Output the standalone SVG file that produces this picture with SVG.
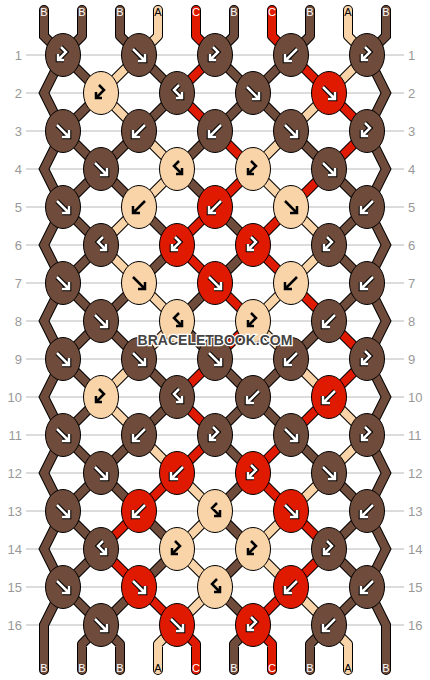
<svg xmlns="http://www.w3.org/2000/svg" xmlns:xlink="http://www.w3.org/1999/xlink" width="430" height="680" viewBox="0 0 430 680">
<style>
.grid{fill:none;stroke:#b8b8b8;stroke-width:1}
.rl{font-family:"Liberation Sans",Arial,sans-serif;font-size:13px;fill:#999}
.so{fill:none;stroke:#000;stroke-width:10;stroke-linecap:round;stroke-linejoin:round}
.se{fill:none;stroke:#000;stroke-width:10;stroke-linecap:round;stroke-linejoin:miter}
.sb{fill:none;stroke:#6E4B3A;stroke-width:8;stroke-linecap:round;stroke-linejoin:round}
.sbe{fill:none;stroke:#6E4B3A;stroke-width:8;stroke-linecap:round;stroke-linejoin:miter}
.sa{fill:none;stroke:#F8D4A8;stroke-width:8;stroke-linecap:round;stroke-linejoin:round}
.sc{fill:none;stroke:#E01A00;stroke-width:8;stroke-linecap:round;stroke-linejoin:round}
.kb{fill:#6E4B3A;stroke:#000;stroke-width:1}
.ka{fill:#F8D4A8;stroke:#000;stroke-width:1}
.kc{fill:#E01A00;stroke:#000;stroke-width:1}
.ao{fill:none;stroke:#000;stroke-width:4.6}
.ai{fill:none;stroke:#fff;stroke-width:2.5}
.ak{fill:none;stroke:#000;stroke-width:2.5}
.lt{font-family:"Liberation Sans",Arial,sans-serif;font-size:11px;text-anchor:middle}
.lw{fill:#fff}
.lk{fill:#000}
.wm{font-family:"Liberation Sans",Arial,sans-serif;font-size:14px;font-weight:bold;fill:#444;stroke:#fff;stroke-width:2.5;paint-order:stroke;text-anchor:middle}
</style>
<defs>
<ellipse id="e" rx="17.5" ry="21.5"/>
<path id="aF" d="M-6,-6L5,5M6,-1L6,6L-1,6"/>
<path id="aK" d="M6,-6L-5,5M-6,-1L-6,6L1,6"/>
<path id="aBF" d="M-2,-8L3,-3L-4,4M-5,-1L-5,5L1,5"/>
<path id="aFB" d="M2,-8L-3,-3L4,4M5,-1L5,5L-1,5"/>
<path id="pB" d="M63,55L101,93M139,55L177,93M215,55L253,93M291,55L253,93M101,93L63,131M177,93L139,131M253,93L215,131M253,93L291,131M63,131L101,169M139,131L101,169M215,131L177,169M291,131L329,169M101,169L63,207M101,169L139,207M177,169L215,207M329,169L367,207M63,207L101,245M139,207L177,245M215,207L253,245M367,207L329,245M101,245L63,283M177,245L139,283M253,245L215,283M329,245L367,283M63,283L101,321M139,283L101,321M215,283L177,321M367,283L329,321M101,321L63,359M101,321L139,359M177,321L215,359M329,321L291,359M63,359L101,397M139,359L177,397M215,359L253,397M291,359L253,397M101,397L63,435M177,397L139,435M253,397L215,435M253,397L291,435M63,435L101,473M139,435L101,473M215,435L253,473M291,435L329,473M101,473L63,511M101,473L139,511M253,473L215,511M329,473L367,511M63,511L101,549M139,511L177,549M215,511L253,549M367,511L329,549M101,549L63,587M177,549L139,587M253,549L215,587M329,549L367,587M63,587L101,625M139,587L101,625M215,587L253,625M367,587L329,625M82,10V36L63,55M120,10V36L139,55M234,10V36L215,55M310,10V36L291,55M101,625L82,644V670M101,625L120,644V670M253,625L234,644V670M329,625L310,644V670"/>
<path id="pE" d="M44,10V36L63,55L44,93L63,131L44,169L63,207L44,245L63,283L44,321L63,359L44,397L63,435L44,473L63,511L44,549L63,587L44,625V670M386,10V36L367,55L386,93L367,131L386,169L367,207L386,245L367,283L386,321L367,359L386,397L367,435L386,473L367,511L386,549L367,587L386,625V670"/>
<path id="pA" d="M139,55L101,93M367,55L329,93M101,93L139,131M329,93L291,131M139,131L177,169M291,131L253,169M177,169L139,207M253,169L291,207M139,207L101,245M291,207L329,245M101,245L139,283M329,245L291,283M139,283L177,321M291,283L253,321M177,321L139,359M253,321L291,359M139,359L101,397M291,359L329,397M101,397L139,435M329,397L367,435M139,435L177,473M367,435L329,473M177,473L215,511M329,473L291,511M215,511L177,549M291,511L253,549M177,549L215,587M253,549L291,587M215,587L177,625M291,587L329,625M158,10V36L139,55M348,10V36L367,55M177,625L158,644V670M329,625L348,644V670"/>
<path id="pC" d="M215,55L177,93M291,55L329,93M177,93L215,131M329,93L367,131M215,131L253,169M367,131L329,169M253,169L215,207M329,169L291,207M215,207L177,245M291,207L253,245M177,245L215,283M253,245L291,283M215,283L253,321M291,283L329,321M253,321L215,359M329,321L367,359M215,359L177,397M367,359L329,397M177,397L215,435M329,397L291,435M215,435L177,473M291,435L253,473M177,473L139,511M253,473L291,511M139,511L101,549M291,511L329,549M101,549L139,587M329,549L291,587M139,587L177,625M291,587L253,625M196,10V36L215,55M272,10V36L291,55M177,625L196,644V670M253,625L272,644V670"/>
</defs>
<rect width="430" height="680" fill="#fff"/>
<g id="grid">
<path class="grid" d="M26,55H404M26,93H404M26,131H404M26,169H404M26,207H404M26,245H404M26,283H404M26,321H404M26,359H404M26,397H404M26,435H404M26,473H404M26,511H404M26,549H404M26,587H404M26,625H404"/>
</g>
<g id="row-labels" class="rl">
<g text-anchor="end">
<text x="22" y="59.5">1</text><text x="22" y="97.5">2</text><text x="22" y="135.5">3</text><text x="22" y="173.5">4</text><text x="22" y="211.5">5</text><text x="22" y="249.5">6</text><text x="22" y="287.5">7</text><text x="22" y="325.5">8</text><text x="22" y="363.5">9</text><text x="22" y="401.5">10</text><text x="22" y="439.5">11</text><text x="22" y="477.5">12</text><text x="22" y="515.5">13</text><text x="22" y="553.5">14</text><text x="22" y="591.5">15</text><text x="22" y="629.5">16</text>
</g>
<g text-anchor="start">
<text x="408" y="59.5">1</text><text x="408" y="97.5">2</text><text x="408" y="135.5">3</text><text x="408" y="173.5">4</text><text x="408" y="211.5">5</text><text x="408" y="249.5">6</text><text x="408" y="287.5">7</text><text x="408" y="325.5">8</text><text x="408" y="363.5">9</text><text x="408" y="401.5">10</text><text x="408" y="439.5">11</text><text x="408" y="477.5">12</text><text x="408" y="515.5">13</text><text x="408" y="553.5">14</text><text x="408" y="591.5">15</text><text x="408" y="629.5">16</text>
</g>
</g>
<g id="connectors">
<use href="#pE" class="se"/>
<use href="#pB" class="so"/>
<use href="#pA" class="so"/>
<use href="#pC" class="so"/>
<use href="#pE" class="sbe"/>
<use href="#pB" class="sb"/>
<use href="#pA" class="sa"/>
<use href="#pC" class="sc"/>
</g>
<g id="string-labels" class="lt">
<text class="lw" x="44" y="16">B</text><text class="lw" x="82" y="16">B</text><text class="lw" x="120" y="16">B</text><text class="lk" x="158" y="16">A</text><text class="lw" x="196" y="16">C</text><text class="lw" x="234" y="16">B</text><text class="lw" x="272" y="16">C</text><text class="lw" x="310" y="16">B</text><text class="lk" x="348" y="16">A</text><text class="lw" x="386" y="16">B</text>
<text class="lw" x="44" y="672">B</text><text class="lw" x="82" y="672">B</text><text class="lw" x="120" y="672">B</text><text class="lk" x="158" y="672">A</text><text class="lw" x="196" y="672">C</text><text class="lw" x="234" y="672">B</text><text class="lw" x="272" y="672">C</text><text class="lw" x="310" y="672">B</text><text class="lk" x="348" y="672">A</text><text class="lw" x="386" y="672">B</text>
</g>
<g id="knots">
<g id="k1-1" transform="translate(63,55)"><use href="#e" class="kb"/><use href="#aBF" class="ao"/><use href="#aBF" class="ai"/></g>
<g id="k1-2" transform="translate(139,55)"><use href="#e" class="kb"/><use href="#aF" class="ao"/><use href="#aF" class="ai"/></g>
<g id="k1-3" transform="translate(215,55)"><use href="#e" class="kb"/><use href="#aBF" class="ao"/><use href="#aBF" class="ai"/></g>
<g id="k1-4" transform="translate(291,55)"><use href="#e" class="kb"/><use href="#aK" class="ao"/><use href="#aK" class="ai"/></g>
<g id="k1-5" transform="translate(367,55)"><use href="#e" class="kb"/><use href="#aBF" class="ao"/><use href="#aBF" class="ai"/></g>
<g id="k2-1" transform="translate(101,93)"><use href="#e" class="ka"/><use href="#aBF" class="ak"/></g>
<g id="k2-2" transform="translate(177,93)"><use href="#e" class="kb"/><use href="#aFB" class="ao"/><use href="#aFB" class="ai"/></g>
<g id="k2-3" transform="translate(253,93)"><use href="#e" class="kb"/><use href="#aF" class="ao"/><use href="#aF" class="ai"/></g>
<g id="k2-4" transform="translate(329,93)"><use href="#e" class="kc"/><use href="#aF" class="ao"/><use href="#aF" class="ai"/></g>
<g id="k3-1" transform="translate(63,131)"><use href="#e" class="kb"/><use href="#aF" class="ao"/><use href="#aF" class="ai"/></g>
<g id="k3-2" transform="translate(139,131)"><use href="#e" class="kb"/><use href="#aK" class="ao"/><use href="#aK" class="ai"/></g>
<g id="k3-3" transform="translate(215,131)"><use href="#e" class="kb"/><use href="#aK" class="ao"/><use href="#aK" class="ai"/></g>
<g id="k3-4" transform="translate(291,131)"><use href="#e" class="kb"/><use href="#aF" class="ao"/><use href="#aF" class="ai"/></g>
<g id="k3-5" transform="translate(367,131)"><use href="#e" class="kb"/><use href="#aBF" class="ao"/><use href="#aBF" class="ai"/></g>
<g id="k4-1" transform="translate(101,169)"><use href="#e" class="kb"/><use href="#aF" class="ao"/><use href="#aF" class="ai"/></g>
<g id="k4-2" transform="translate(177,169)"><use href="#e" class="ka"/><use href="#aFB" class="ak"/></g>
<g id="k4-3" transform="translate(253,169)"><use href="#e" class="ka"/><use href="#aBF" class="ak"/></g>
<g id="k4-4" transform="translate(329,169)"><use href="#e" class="kb"/><use href="#aF" class="ao"/><use href="#aF" class="ai"/></g>
<g id="k5-1" transform="translate(63,207)"><use href="#e" class="kb"/><use href="#aF" class="ao"/><use href="#aF" class="ai"/></g>
<g id="k5-2" transform="translate(139,207)"><use href="#e" class="ka"/><use href="#aK" class="ak"/></g>
<g id="k5-3" transform="translate(215,207)"><use href="#e" class="kc"/><use href="#aK" class="ao"/><use href="#aK" class="ai"/></g>
<g id="k5-4" transform="translate(291,207)"><use href="#e" class="ka"/><use href="#aF" class="ak"/></g>
<g id="k5-5" transform="translate(367,207)"><use href="#e" class="kb"/><use href="#aK" class="ao"/><use href="#aK" class="ai"/></g>
<g id="k6-1" transform="translate(101,245)"><use href="#e" class="kb"/><use href="#aFB" class="ao"/><use href="#aFB" class="ai"/></g>
<g id="k6-2" transform="translate(177,245)"><use href="#e" class="kc"/><use href="#aBF" class="ao"/><use href="#aBF" class="ai"/></g>
<g id="k6-3" transform="translate(253,245)"><use href="#e" class="kc"/><use href="#aBF" class="ao"/><use href="#aBF" class="ai"/></g>
<g id="k6-4" transform="translate(329,245)"><use href="#e" class="kb"/><use href="#aBF" class="ao"/><use href="#aBF" class="ai"/></g>
<g id="k7-1" transform="translate(63,283)"><use href="#e" class="kb"/><use href="#aF" class="ao"/><use href="#aF" class="ai"/></g>
<g id="k7-2" transform="translate(139,283)"><use href="#e" class="ka"/><use href="#aF" class="ak"/></g>
<g id="k7-3" transform="translate(215,283)"><use href="#e" class="kc"/><use href="#aF" class="ao"/><use href="#aF" class="ai"/></g>
<g id="k7-4" transform="translate(291,283)"><use href="#e" class="ka"/><use href="#aK" class="ak"/></g>
<g id="k7-5" transform="translate(367,283)"><use href="#e" class="kb"/><use href="#aK" class="ao"/><use href="#aK" class="ai"/></g>
<g id="k8-1" transform="translate(101,321)"><use href="#e" class="kb"/><use href="#aF" class="ao"/><use href="#aF" class="ai"/></g>
<g id="k8-2" transform="translate(177,321)"><use href="#e" class="ka"/><use href="#aFB" class="ak"/></g>
<g id="k8-3" transform="translate(253,321)"><use href="#e" class="ka"/><use href="#aBF" class="ak"/></g>
<g id="k8-4" transform="translate(329,321)"><use href="#e" class="kb"/><use href="#aK" class="ao"/><use href="#aK" class="ai"/></g>
<g id="k9-1" transform="translate(63,359)"><use href="#e" class="kb"/><use href="#aF" class="ao"/><use href="#aF" class="ai"/></g>
<g id="k9-2" transform="translate(139,359)"><use href="#e" class="kb"/><use href="#aF" class="ao"/><use href="#aF" class="ai"/></g>
<g id="k9-3" transform="translate(215,359)"><use href="#e" class="kb"/><use href="#aF" class="ao"/><use href="#aF" class="ai"/></g>
<g id="k9-4" transform="translate(291,359)"><use href="#e" class="kb"/><use href="#aK" class="ao"/><use href="#aK" class="ai"/></g>
<g id="k9-5" transform="translate(367,359)"><use href="#e" class="kb"/><use href="#aBF" class="ao"/><use href="#aBF" class="ai"/></g>
<g id="k10-1" transform="translate(101,397)"><use href="#e" class="ka"/><use href="#aBF" class="ak"/></g>
<g id="k10-2" transform="translate(177,397)"><use href="#e" class="kb"/><use href="#aFB" class="ao"/><use href="#aFB" class="ai"/></g>
<g id="k10-3" transform="translate(253,397)"><use href="#e" class="kb"/><use href="#aK" class="ao"/><use href="#aK" class="ai"/></g>
<g id="k10-4" transform="translate(329,397)"><use href="#e" class="kc"/><use href="#aK" class="ao"/><use href="#aK" class="ai"/></g>
<g id="k11-1" transform="translate(63,435)"><use href="#e" class="kb"/><use href="#aF" class="ao"/><use href="#aF" class="ai"/></g>
<g id="k11-2" transform="translate(139,435)"><use href="#e" class="kb"/><use href="#aK" class="ao"/><use href="#aK" class="ai"/></g>
<g id="k11-3" transform="translate(215,435)"><use href="#e" class="kb"/><use href="#aBF" class="ao"/><use href="#aBF" class="ai"/></g>
<g id="k11-4" transform="translate(291,435)"><use href="#e" class="kb"/><use href="#aF" class="ao"/><use href="#aF" class="ai"/></g>
<g id="k11-5" transform="translate(367,435)"><use href="#e" class="kb"/><use href="#aBF" class="ao"/><use href="#aBF" class="ai"/></g>
<g id="k12-1" transform="translate(101,473)"><use href="#e" class="kb"/><use href="#aF" class="ao"/><use href="#aF" class="ai"/></g>
<g id="k12-2" transform="translate(177,473)"><use href="#e" class="kc"/><use href="#aK" class="ao"/><use href="#aK" class="ai"/></g>
<g id="k12-3" transform="translate(253,473)"><use href="#e" class="kc"/><use href="#aBF" class="ao"/><use href="#aBF" class="ai"/></g>
<g id="k12-4" transform="translate(329,473)"><use href="#e" class="kb"/><use href="#aF" class="ao"/><use href="#aF" class="ai"/></g>
<g id="k13-1" transform="translate(63,511)"><use href="#e" class="kb"/><use href="#aF" class="ao"/><use href="#aF" class="ai"/></g>
<g id="k13-2" transform="translate(139,511)"><use href="#e" class="kc"/><use href="#aK" class="ao"/><use href="#aK" class="ai"/></g>
<g id="k13-3" transform="translate(215,511)"><use href="#e" class="ka"/><use href="#aFB" class="ak"/></g>
<g id="k13-4" transform="translate(291,511)"><use href="#e" class="kc"/><use href="#aF" class="ao"/><use href="#aF" class="ai"/></g>
<g id="k13-5" transform="translate(367,511)"><use href="#e" class="kb"/><use href="#aK" class="ao"/><use href="#aK" class="ai"/></g>
<g id="k14-1" transform="translate(101,549)"><use href="#e" class="kb"/><use href="#aFB" class="ao"/><use href="#aFB" class="ai"/></g>
<g id="k14-2" transform="translate(177,549)"><use href="#e" class="ka"/><use href="#aBF" class="ak"/></g>
<g id="k14-3" transform="translate(253,549)"><use href="#e" class="ka"/><use href="#aBF" class="ak"/></g>
<g id="k14-4" transform="translate(329,549)"><use href="#e" class="kb"/><use href="#aBF" class="ao"/><use href="#aBF" class="ai"/></g>
<g id="k15-1" transform="translate(63,587)"><use href="#e" class="kb"/><use href="#aF" class="ao"/><use href="#aF" class="ai"/></g>
<g id="k15-2" transform="translate(139,587)"><use href="#e" class="kc"/><use href="#aF" class="ao"/><use href="#aF" class="ai"/></g>
<g id="k15-3" transform="translate(215,587)"><use href="#e" class="ka"/><use href="#aFB" class="ak"/></g>
<g id="k15-4" transform="translate(291,587)"><use href="#e" class="kc"/><use href="#aK" class="ao"/><use href="#aK" class="ai"/></g>
<g id="k15-5" transform="translate(367,587)"><use href="#e" class="kb"/><use href="#aK" class="ao"/><use href="#aK" class="ai"/></g>
<g id="k16-1" transform="translate(101,625)"><use href="#e" class="kb"/><use href="#aF" class="ao"/><use href="#aF" class="ai"/></g>
<g id="k16-2" transform="translate(177,625)"><use href="#e" class="kc"/><use href="#aF" class="ao"/><use href="#aF" class="ai"/></g>
<g id="k16-3" transform="translate(253,625)"><use href="#e" class="kc"/><use href="#aBF" class="ao"/><use href="#aBF" class="ai"/></g>
<g id="k16-4" transform="translate(329,625)"><use href="#e" class="kb"/><use href="#aK" class="ao"/><use href="#aK" class="ai"/></g>
</g>
<text class="wm" x="215" y="345">BRACELETBOOK.COM</text>
</svg>
